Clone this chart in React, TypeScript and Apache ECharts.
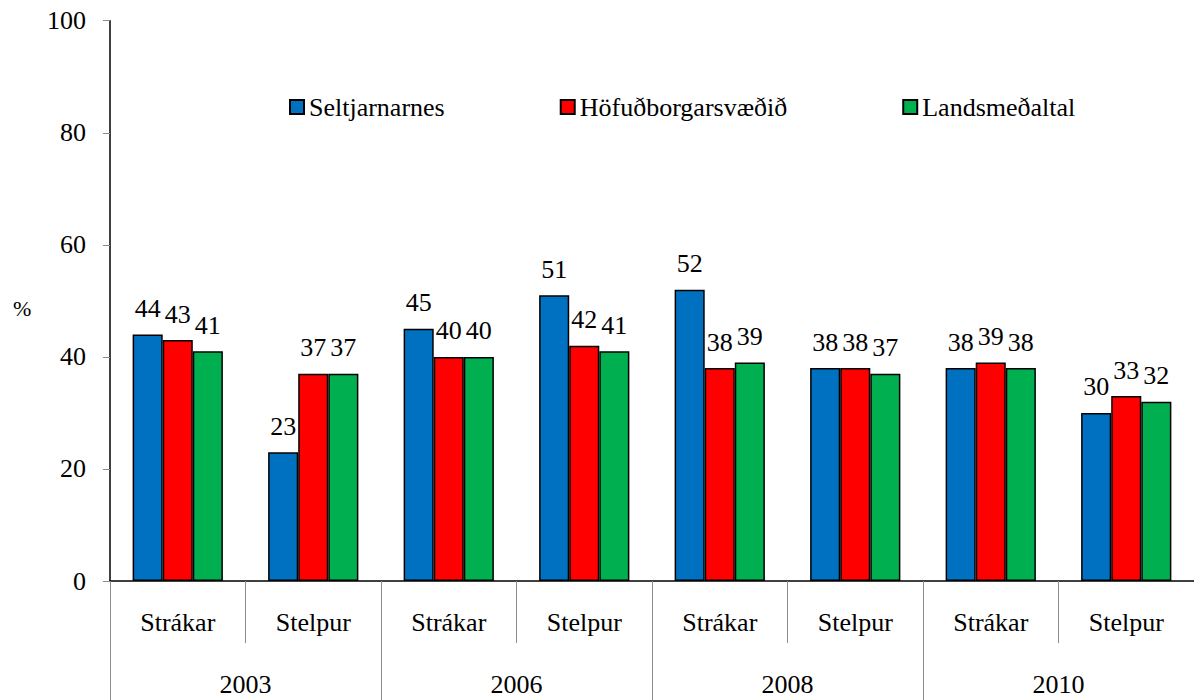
import React, { useEffect, useRef } from "react";
import * as echarts from "echarts";

const groups = ["Strákar", "Stelpur", "Strákar", "Stelpur", "Strákar", "Stelpur", "Strákar", "Stelpur"];
const years = ["2003", "2006", "2008", "2010"];
const seriesNames = ["Seltjarnarnes", "Höfuðborgarsvæðið", "Landsmeðaltal"];
const seltjarnarnes = [44, 23, 45, 51, 52, 38, 38, 30];
const hofudborgarsvaedid = [43, 37, 40, 42, 38, 38, 39, 33];
const landsmedaltal = [41, 37, 40, 41, 39, 37, 38, 32];
const yTicks = [0, 20, 40, 60, 80, 100];
const colors = ["#0070C0", "#FF0000", "#00B050"];

const FONT = "Times New Roman, Liberation Serif, DejaVu Serif, serif";

export default function App() {
  const ref = useRef<HTMLDivElement>(null);
  useEffect(() => {
    if (!ref.current) return;
    const chart = echarts.init(ref.current, null, { renderer: "svg" });
    const values = [seltjarnarnes, hofudborgarsvaedid, landsmedaltal];
    chart.setOption({
      animation: false,
      backgroundColor: "#ffffff",
      textStyle: { fontFamily: FONT, color: "#000" },
      grid: { left: 110, right: -4, top: 20.7, bottom: 119, containLabel: false },
      legend: {
        left: 284,
        top: 89,
        itemWidth: 14,
        itemHeight: 14,
        itemGap: 115,
        icon: "rect",
        textStyle: { fontFamily: FONT, fontSize: 26, color: "#000" },
        data: seriesNames,
      },
      graphic: [
        {
          type: "text",
          left: 13,
          top: 297,
          style: { text: "%", fontFamily: FONT, fontSize: 22, fill: "#000" },
        },
      ],
      xAxis: [
        {
          type: "category",
          data: groups,
          position: "bottom",
          axisLine: { show: true, lineStyle: { color: "#000", width: 1.5 } },
          axisTick: { show: true, length: 62, interval: 0, lineStyle: { color: "#8c8c8c", width: 1 } },
          axisLabel: { interval: 0, margin: 28, fontFamily: FONT, fontSize: 26, color: "#000" },
          splitLine: { show: false },
        },
        {
          type: "category",
          data: years,
          position: "bottom",
          axisLine: { show: false },
          axisTick: { show: true, length: 125, interval: 0, lineStyle: { color: "#8c8c8c", width: 1 } },
          axisLabel: { interval: 0, margin: 90, fontFamily: FONT, fontSize: 26, color: "#000" },
          splitLine: { show: false },
        },
      ],
      yAxis: {
        type: "value",
        min: yTicks[0],
        max: yTicks[yTicks.length - 1],
        interval: 20,
        axisLine: { show: true, lineStyle: { color: "#000", width: 1.5 } },
        axisTick: { show: true, length: 7, lineStyle: { color: "#8c8c8c" } },
        axisLabel: { margin: 24, fontFamily: FONT, fontSize: 26, color: "#000" },
        splitLine: { show: false },
      },
      series: seriesNames.map((name, i) => ({
        name,
        type: "bar",
        xAxisIndex: 0,
        data: values[i],
        barGap: "0%",
        barCategoryGap: "33.4%",
        itemStyle: { color: colors[i], borderColor: "#000", borderWidth: 1.5 },
        label: {
          show: true,
          position: "top",
          distance: 13,
          fontFamily: FONT,
          fontSize: 26,
          color: "#000",
        },
      })),
    });
    return () => chart.dispose();
  }, []);
  return (
    <div
      ref={ref}
      style={{ position: "absolute", left: 0, top: 0, width: 1194, height: 700 }}
    />
  );
}
